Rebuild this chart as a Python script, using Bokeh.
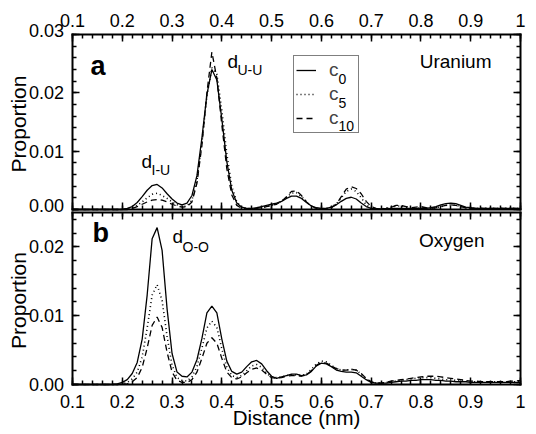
import math
from bokeh.plotting import figure
from bokeh.models import Range1d, LinearAxis, FixedTicker, Label, Legend, LegendItem
from bokeh.embed import file_html
from bokeh.resources import INLINE

# ---------------- data ----------------
distance = [round(0.10 + 0.01 * i, 2) for i in range(91)]

# Uranium panel (a)
u_c0 = [0, 0, 0, 0, 0, 0, 0, 0, 0, 0,
        0, .0002, .0005, .0012, .0022, .0033, .0041, .0043, .0037, .0027,
        .0018, .0011, .0008, .0011, .0024, .0058, .0123, .0197, .0240, .0222,
        .0155, .0082, .0033, .0011, .0004, .0002, .0002, .0003, .0005, .0007,
        .0009, .0011, .0014, .0019, .0023, .0023, .0019, .0012, .0006, .0003,
        .0002, .0002, .0004, .0008, .0014, .0019, .0021, .0018, .0011, .0005,
        .0002, .0001, .0001, .0001, .0002, .0002, .0002, .0002, .0002, .0002,
        .0002, .0002, .0003, .0005, .0008, .0010, .0011, .0010, .0007, .0004,
        .0003, .0002, .0002, .0002, .0002, .0002, .0002, .0002, .0002, .0002,
        .0002]
u_c5 = [0, 0, 0, 0, 0, 0, 0, 0, 0, 0,
        0, .0001, .0003, .0007, .0013, .0020, .0026, .0028, .0024, .0019,
        .0013, .0008, .0005, .0006, .0016, .0050, .0115, .0195, .0243, .0232,
        .0170, .0095, .0040, .0013, .0004, .0002, .0001, .0002, .0003, .0005,
        .0007, .0010, .0014, .0021, .0028, .0029, .0022, .0013, .0006, .0002,
        .0001, .0002, .0004, .0010, .0020, .0031, .0035, .0031, .0020, .0008,
        .0002, .0001, .0001, .0002, .0004, .0006, .0006, .0004, .0002, .0002,
        .0002, .0002, .0002, .0003, .0005, .0007, .0008, .0007, .0005, .0003,
        .0002, .0002, .0002, .0002, .0002, .0002, .0002, .0002, .0002, .0002,
        .0002]
u_c10 = [0, 0, 0, 0, 0, 0, 0, 0, 0, 0,
         0, 0, .0002, .0005, .0009, .0013, .0016, .0017, .0016, .0013,
         .0009, .0006, .0004, .0005, .0013, .0045, .0110, .0200, .0270, .0225,
         .0145, .0070, .0025, .0007, .0002, .0001, .0001, .0002, .0003, .0005,
         .0007, .0009, .0014, .0022, .0031, .0032, .0024, .0013, .0006, .0002,
         .0001, .0001, .0003, .0009, .0022, .0035, .0039, .0036, .0027, .0014,
         .0005, .0002, .0001, .0002, .0004, .0007, .0007, .0005, .0003, .0004,
         .0005, .0003, .0002, .0003, .0005, .0007, .0008, .0007, .0005, .0003,
         .0002, .0002, .0002, .0002, .0002, .0002, .0002, .0002, .0002, .0002,
         .0002]

# Oxygen panel (b)
o_c0 = [0, 0, 0, 0, 0, 0, 0, 0, 0, .0001,
        .0003, .0007, .0016, .0032, .0066, .0130, .0212, .0228, .0195, .0110,
        .0045, .0018, .0012, .0011, .0018, .0036, .0067, .0104, .0114, .0104,
        .0066, .0034, .0019, .0015, .0018, .0026, .0033, .0035, .0030, .0020,
        .0012, .0009, .0011, .0013, .0015, .0015, .0013, .0014, .0019, .0027,
        .0031, .0030, .0026, .0021, .0019, .0018, .0018, .0017, .0012, .0007,
        .0003, .0002, .0002, .0002, .0003, .0004, .0005, .0005, .0006, .0006,
        .0007, .0007, .0007, .0006, .0006, .0005, .0005, .0004, .0004, .0004,
        .0003, .0003, .0003, .0003, .0003, .0003, .0003, .0003, .0003, .0003,
        .0003]
o_c5 = [0, 0, 0, 0, 0, 0, 0, 0, 0, 0,
        .0001, .0003, .0008, .0018, .0040, .0082, .0130, .0145, .0122, .0070,
        .0028, .0010, .0006, .0005, .0011, .0026, .0053, .0082, .0092, .0083,
        .0052, .0025, .0013, .0010, .0013, .0020, .0027, .0029, .0025, .0016,
        .0011, .0010, .0011, .0013, .0014, .0014, .0013, .0015, .0022, .0030,
        .0034, .0033, .0028, .0023, .0021, .0021, .0022, .0021, .0015, .0008,
        .0003, .0002, .0002, .0003, .0004, .0005, .0006, .0007, .0008, .0009,
        .0010, .0010, .0010, .0009, .0008, .0007, .0007, .0006, .0005, .0005,
        .0004, .0004, .0004, .0004, .0004, .0004, .0004, .0004, .0004, .0004,
        .0004]
o_c10 = [0, 0, 0, 0, 0, 0, 0, 0, 0, 0,
         0, .0001, .0004, .0010, .0025, .0053, .0086, .0098, .0083, .0047,
         .0018, .0006, .0003, .0003, .0007, .0018, .0038, .0060, .0068, .0060,
         .0038, .0018, .0010, .0008, .0011, .0017, .0022, .0024, .0021, .0015,
         .0010, .0009, .0010, .0012, .0013, .0013, .0012, .0014, .0020, .0028,
         .0032, .0031, .0027, .0023, .0021, .0021, .0022, .0021, .0016, .0009,
         .0004, .0002, .0002, .0003, .0005, .0006, .0007, .0008, .0009, .0010,
         .0011, .0012, .0012, .0012, .0011, .0010, .0009, .0008, .0007, .0006,
         .0005, .0005, .0004, .0004, .0004, .0004, .0004, .0004, .0005, .0005,
         .0006]

series_subscripts = ["0", "5", "10"]

x_ticks = [0.1, 0.2, 0.3, 0.4, 0.5, 0.6, 0.7, 0.8, 0.9, 1.0]
x_tick_labels = ["0.1", "0.2", "0.3", "0.4", "0.5", "0.6", "0.7", "0.8", "0.9", "1"]
u_y_ticks = [0.0, 0.01, 0.02, 0.03]
u_y_tick_labels = ["0.00", "0.01", "0.02", "0.03"]
o_y_ticks = [0.0, 0.01, 0.02]
o_y_tick_labels = ["0.00", "0.01", "0.02"]
U_MAX = 0.03
O_MAX = 0.025

# ---------------- geometry (page pixels) ----------------
FONT = "Liberation Sans"
W, H = 536, 434
PL, PR = 72, 520                 # panel left / right edges
A_TOP, A_BOT = 34, 209           # panel a top / bottom
B_TOP, B_BOT = 212, 384          # panel b top / bottom
XS = 0.9 / (PR - PL)             # nm per pixel

x_minor = [round(0.1 + 0.02 * i, 2) for i in range(46)]
u_minor = [round(0.002 * i, 3) for i in range(16)]
o_minor = [round(0.002 * i, 3) for i in range(13)]


def X(px):
    return 0.1 + (px - PL) * XS


def Y(py):
    return (H - py) / H


def panel_range(top, bot, vmax):
    per = vmax / (bot - top)
    return Range1d(-(H - bot) * per, vmax + top * per)


def pa(v):
    return A_BOT - v / U_MAX * (A_BOT - A_TOP)


def pb(v):
    return B_BOT - v / O_MAX * (B_BOT - B_TOP)


p = figure(width=W, height=H, x_range=Range1d(X(0), X(W)), y_range=Range1d(0, 1),
           x_axis_location=None, y_axis_location=None,
           output_backend="svg", toolbar_location=None, min_border=0)
p.extra_y_ranges = {"ua": panel_range(A_TOP, A_BOT, U_MAX),
                    "ox": panel_range(B_TOP, B_BOT, O_MAX)}
p.xgrid.visible = False
p.ygrid.visible = False
p.outline_line_color = None
p.background_fill_color = "white"
p.border_fill_color = "white"


def tick_axis(positions, length, fixed, bounds, line):
    ax = LinearAxis(ticker=FixedTicker(ticks=[], minor_ticks=positions),
                    fixed_location=fixed, bounds=bounds,
                    major_tick_in=0, major_tick_out=0,
                    minor_tick_in=length, minor_tick_out=0,
                    minor_tick_line_width=1.5, minor_tick_line_color="black",
                    major_label_standoff=0)
    if line:
        ax.axis_line_color = "black"
        ax.axis_line_width = 2
        ax.axis_line_cap = "square"
    else:
        ax.axis_line_color = None
    return ax


def edge(side, fixed, majors, minors, bounds):
    p.add_layout(tick_axis(majors, 7, fixed, bounds, True), side)
    p.add_layout(tick_axis(minors, 4, fixed, bounds, False), side)


# horizontal panel edges (ticks point into each panel)
edge("above", Y(A_TOP), x_ticks, x_minor, (0.1, 1.0))
edge("below", Y(A_BOT), x_ticks, x_minor, (0.1, 1.0))
edge("above", Y(B_TOP), x_ticks, x_minor, (0.1, 1.0))
edge("below", Y(B_BOT), x_ticks, x_minor, (0.1, 1.0))
# vertical panel edges
for side, loc in (("left", 0.1), ("right", 1.0)):
    edge(side, loc, [Y(pa(v)) for v in u_y_ticks], [Y(pa(v)) for v in u_minor],
         (Y(A_BOT), Y(A_TOP)))
    edge(side, loc, [Y(pb(v)) for v in o_y_ticks], [Y(pb(v)) for v in o_minor],
         (Y(B_BOT), Y(B_TOP)))


def add_curves(ys, rng):
    r0 = p.line(distance, ys[0], line_color="black", line_width=1.3, y_range_name=rng)
    r1 = p.line(distance, ys[1], line_color="black", line_width=1.6, line_dash="1 3", y_range_name=rng)
    r2 = p.line(distance, ys[2], line_color="black", line_width=1.3, line_dash="6 4", y_range_name=rng)
    return [r0, r1, r2]


rs = add_curves([u_c0, u_c5, u_c10], "ua")
add_curves([o_c0, o_c5, o_c10], "ox")

legend = Legend(items=[LegendItem(label="c", renderers=[r]) for r in rs],
                location=(293, H - 133), orientation="vertical",
                border_line_color="black", border_line_width=1.5,
                background_fill_color="white", background_fill_alpha=0.0,
                padding=2, spacing=-2, margin=0,
                glyph_width=20, glyph_height=24, label_height=24,
                label_width=27, label_standoff=13,
                label_text_font=FONT, label_text_font_size="19px")
p.add_layout(legend)


def txt_at(x, py_base, s, size, bold=False, align="left"):
    # labels are anchored on their centre line; shift from the wanted baseline
    p.add_layout(Label(x=x, y=Y(py_base - 0.37 * size), text=s, text_font=FONT,
                       text_font_size=f"{size}px",
                       text_font_style="bold" if bold else "normal",
                       text_align=align, text_baseline="alphabetic", text_color="black"))


def txt(px, py_base, s, size, bold=False, align="left"):
    txt_at(X(px), py_base, s, size, bold, align)


# tick labels
for t, s in zip(x_ticks, x_tick_labels):
    txt_at(t, 27, s, 18, align="center")
    txt_at(t, 408, s, 18, align="center")
for v, s in zip(u_y_ticks, u_y_tick_labels):
    nudge = -3.5 if v in (u_y_ticks[0], u_y_ticks[-1]) else 0
    txt(63.5, pa(v) + 6.5 + nudge, s, 18, align="right")
for v, s in zip(o_y_ticks, o_y_tick_labels):
    txt(63.5, pb(v) + 6.5, s, 18, align="right")

# axis titles
txt((PL + PR) / 2, 425, "Distance (nm)", 20.5, align="center")
for cy in [(A_TOP + A_BOT) / 2 + 2, (B_TOP + B_BOT) / 2 + 2]:
    p.add_layout(Label(x=X(18), y=Y(cy), text="Proportion", angle=math.pi / 2,
                       text_font=FONT, text_font_size="21px", text_align="center",
                       text_baseline="alphabetic", text_color="black"))

# panel annotations
txt(90, 75, "a", 27, bold=True)
txt(141, 168, "d", 19)
txt(151, 175, "I-U", 14)
txt(227, 68, "d", 19)
txt(237, 75, "U-U", 14)
txt(491, 68, "Uranium", 19, align="right")
for s, yb in zip(series_subscripts, [84, 107.5, 131]):
    txt(338, yb, s, 14)

txt(92, 242, "b", 27, bold=True)
txt(172, 243, "d", 19)
txt(182, 252, "O-O", 14)
txt(484, 247, "Oxygen", 19, align="right")

open("out.html", "w").write(file_html(p, INLINE))
